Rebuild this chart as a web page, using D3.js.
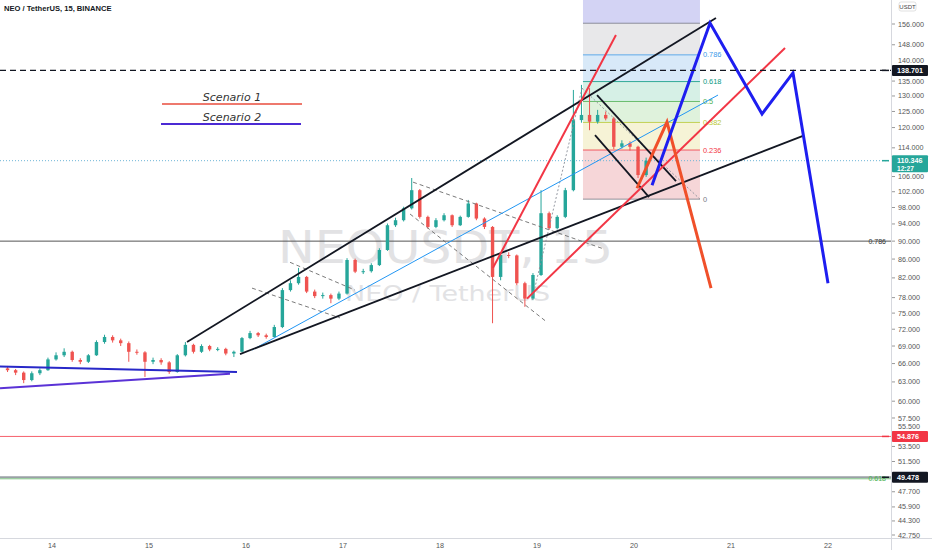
<!DOCTYPE html>
<html><head><meta charset="utf-8">
<script src="https://cdn.jsdelivr.net/npm/d3@7"></script>
<style>body{margin:0;background:#fff}svg{display:block}</style>
</head><body>
<svg id="c" width="932" height="550"></svg>
<script>
// ---- data ----
const candleStartDay = 13.5;   // 13th, 12:00
const candleHours = 2;
const opens  = [65.2,64.9,64.5,63.3,64.4,64.9,66.7,67.4,68.0,66.6,66.3,67.4,69.7,70.6,70.0,69.5,68.0,67.9,66.3,66.6,
                66.2,64.6,67.4,69.2,68.0,69.0,68.4,68.5,67.7,68.0,70.4,71.3,70.9,70.6,72.4,79.5,80.9,82.2,79.2,78.3,
                78.5,77.8,78.8,85.8,83.3,83.4,84.7,88.0,93.7,94.9,97.8,102.4,95.7,93.3,94.9,96.1,93.7,95.7,99.0,95.3,
                93.3,82.2,86.9,86.8,80.9,77.8,82.6,96.6,93.0,95.7,102.4,122.3,123.9,121.8,123.9,122.8,114.3,115.3,114.3,106.4];
const closes = [64.9,64.5,63.3,64.4,64.9,66.7,67.4,68.0,66.6,66.3,67.4,69.7,70.6,70.0,69.5,68.0,67.9,66.3,66.6,66.2,
                64.6,67.4,69.2,68.0,69.0,68.4,68.5,67.7,68.0,70.4,71.3,70.9,70.6,72.4,79.5,80.9,82.2,79.2,78.3,78.5,
                77.8,78.8,85.8,83.3,83.4,84.7,88.0,93.7,94.9,97.8,102.4,95.7,93.3,94.9,96.1,93.7,95.7,99.0,95.3,93.3,
                82.2,86.9,86.8,80.9,77.8,82.6,96.6,93.0,95.7,102.4,122.3,123.9,121.8,123.9,122.8,114.3,115.3,114.3,106.4,110.346];
const highs  = [65.6,65.1,64.7,64.7,65.2,67.0,67.9,68.6,68.2,66.9,67.6,70.0,71.0,70.9,70.3,69.8,68.4,68.1,67.0,66.9,
                66.4,67.6,69.7,69.4,69.3,69.2,68.8,68.7,68.2,70.6,71.7,71.5,71.2,72.8,79.9,81.5,84.1,82.4,79.6,79.0,
                78.8,79.2,86.2,86.1,83.9,85.1,88.4,94.1,95.5,98.2,105.6,102.7,96.0,95.4,96.6,96.3,96.0,99.9,99.2,95.6,
                93.5,87.4,87.5,87.0,81.2,83.0,102.4,97.0,96.1,103.0,132.0,133.7,132.6,125.5,125.0,123.3,116.2,115.9,114.6,111.2];
const lows   = [64.6,64.1,62.8,63.1,64.1,64.8,66.5,67.1,66.3,65.9,66.1,67.3,69.4,69.6,69.0,66.3,67.5,63.8,65.9,65.8,
                64.3,64.5,67.2,67.7,67.8,68.1,68.1,67.4,67.1,67.9,70.2,70.6,70.3,70.5,72.2,79.2,80.6,78.9,77.9,77.8,
                76.9,77.5,78.6,83.0,82.8,83.1,84.5,87.8,93.3,94.6,97.5,95.3,92.9,93.0,94.6,93.3,93.5,95.5,94.9,92.8,
                73.1,81.5,86.2,80.5,76.2,77.5,82.4,92.6,92.7,95.4,102.1,121.5,119.2,121.2,122.2,113.6,113.8,113.2,105.6,105.9];

const dayTicks   = [14,15,16,17,18,19,20,21,22];
const priceTicks = [156,148,140,135,130,125,120,114,106,102,98,94,90,86,82,78,75,72,69,66,63,60,57.5,55.5,53.5,51.5,47.7,45.9,44.3,42.75];

const lastPrice = 110.346, lastTime = "12:27";
const dashedLevel = 138.701, fibLevel786 = 90, redLevel = 54.876, greyLevel = 49.478;

// drawings, as [day, price]
const wedgeUpper = [[15.392,69.7],[20.845,158.4]];
const wedgeLower = [[15.938,67.6],[21.742,117.5]];
const midChannel = [[16.062,68.3],[20.866,130.3]];
const flagUpper  = [[19.619,130.3],[20.433,104.8]];
const flagLower  = [[19.598,117.7],[20.155,100.6]];
const dashedA    = [[16.062,79.9],[16.969,74.1]];
const dashedB    = [[16.454,85.3],[17.124,79.5]];
const dashedC    = [[17.722,104.5],[19.680,88.3]];
const dashedD    = [[17.691,96.4],[19.103,73.3]];
const fibTrendA  = [[18.948,77.5],[19.464,132.6]];
const fibTrendB  = [[19.464,132.6],[20.680,100.1]];
const redUp1     = [[18.546,84.1],[19.814,151.7]];
const redUp2     = [[18.897,77.8],[21.557,146.8]];
const scenario1  = [[20.031,102.9],[20.340,121.7],[20.794,79.9]];
const scenario2  = [[20.186,103.7],[20.784,156.4],[21.320,124.2],[21.639,137.8],[22.0,80.9]];
const triUpper   = [[13.464,65.5],[15.907,64.6]];
const triLower   = [[13.464,62.0],[15.835,64.3]];

const fibStartDay = 19.474, fibEndDay = 20.680;
const fibLow = 100.1, fibHigh = 156.3;
const fibRatios = [0,0.236,0.382,0.5,0.618,0.786,1,1.618];
const fibLabels = ["0","0.236","0.382","0.5","0.618","0.786","",""];

// ---- layout ----
const W = 932, H = 550, paneW = 891, paneH = 538;
const svg = d3.select("#c");
const x = d3.scaleLinear().domain([14,22]).range([52,828]);
const y = d3.scaleLog().domain([42.75,156]).range([535,24]);

svg.append("rect").attr("width",W).attr("height",H).attr("fill","#fff");
svg.append("defs").append("clipPath").attr("id","pane")
  .append("rect").attr("width",paneW).attr("height",paneH);
const pane = svg.append("g").attr("clip-path","url(#pane)");

// watermark
pane.append("text").attr("x",paneW/2).attr("y",263).attr("text-anchor","middle")
  .attr("font-family","DejaVu Sans").attr("font-size",44).attr("fill","#e2e2e4")
  .attr("textLength",335).attr("lengthAdjust","spacingAndGlyphs").text("NEOUSDT, 15");
pane.append("text").attr("x",paneW/2+2).attr("y",301).attr("text-anchor","middle")
  .attr("font-family","DejaVu Sans").attr("font-size",21).attr("fill","#e2e2e4")
  .attr("textLength",205).attr("lengthAdjust","spacingAndGlyphs").text("NEO / TetherUS");

// fib retracement
const fibColors = ["#787b86","#f23645","#b8c832","#4caf50","#089981","#3d9be9","#787b86","#4a4ae0"];
const fibFills  = [null,"#f6d6d8","#f6f3d6","#dff2dc","#d6f0e6","#d8e9f8","#e8e8ea","#d3d3f4"];
const fibPrice = r => fibLow + r*(fibHigh-fibLow);
const fx0 = x(fibStartDay), fx1 = x(fibEndDay);
for (let i=1;i<fibRatios.length;i++){
  const yTop = y(fibPrice(fibRatios[i])), yBot = y(fibPrice(fibRatios[i-1]));
  pane.append("rect").attr("x",fx0).attr("width",fx1-fx0).attr("y",yTop).attr("height",yBot-yTop)
    .attr("fill",fibFills[i]);
}
fibRatios.slice(0,7).forEach((r,i)=>{
  pane.append("line").attr("x1",fx0).attr("x2",fx1).attr("y1",y(fibPrice(r))).attr("y2",y(fibPrice(r)))
    .attr("stroke",fibColors[i]).attr("stroke-width",1).attr("opacity",0.8);
  if (fibLabels[i]) pane.append("text").attr("x",fx1+3).attr("y",y(fibPrice(r))).attr("dy","0.35em")
    .attr("font-family","Liberation Sans").attr("font-size",7.4).attr("fill",fibColors[i]).text(fibLabels[i]);
});

// horizontal levels
const hl = (p,stroke,w,dash)=>pane.append("line").attr("x1",0).attr("x2",paneW).attr("y1",y(p)).attr("y2",y(p))
  .attr("stroke",stroke).attr("stroke-width",w).attr("stroke-dasharray",dash||null);
hl(fibLevel786,"#555",1);
hl(redLevel,"#f23645",0.8);
hl(greyLevel,"#9aa0a6",2);
pane.append("line").attr("x1",0).attr("x2",paneW).attr("y1",y(greyLevel)+1.5).attr("y2",y(greyLevel)+1.5)
  .attr("stroke","#66bb6a").attr("stroke-width",0.8);
hl(lastPrice,"#6fb6d8",1,"1,2");
pane.append("text").attr("x",paneW-5).attr("y",y(fibLevel786)).attr("dy","0.35em").attr("text-anchor","end")
  .attr("font-family","Liberation Sans").attr("font-size",7).attr("fill","#333").text("0.786");
pane.append("text").attr("x",paneW-5).attr("y",y(greyLevel)+1).attr("dy","0.35em").attr("text-anchor","end")
  .attr("font-family","Liberation Sans").attr("font-size",7).attr("fill","#4caf50").text("0.618");

// candles
const candles = closes.map((c,i)=>({t:candleStartDay+(i+0.5)*candleHours/24,o:opens[i],c,h:highs[i],l:lows[i]}));
const cw = 3.4;
const cg = pane.append("g");
candles.forEach(d=>{
  const col = d.c>=d.o ? "#26a69a" : "#ef5350";
  const cx = x(d.t);
  cg.append("line").attr("x1",cx).attr("x2",cx).attr("y1",y(d.h)).attr("y2",y(d.l)).attr("stroke",col).attr("stroke-width",1);
  const y0 = y(Math.max(d.o,d.c)), y1 = y(Math.min(d.o,d.c));
  cg.append("rect").attr("x",cx-cw/2).attr("width",cw).attr("y",y0).attr("height",Math.max(1,y1-y0)).attr("fill",col);
});

// drawings
const line = d3.line().x(d=>x(d[0])).y(d=>y(d[1]));
const draw = (pts,stroke,w,dash)=>pane.append("path").attr("d",line(pts)).attr("fill","none")
  .attr("stroke",stroke).attr("stroke-width",w).attr("stroke-dasharray",dash||null).attr("stroke-linejoin","miter");
[dashedA,dashedB,dashedC,dashedD].forEach(p=>draw(p,"#6b6b6b",0.9,"4,3"));
[fibTrendA,fibTrendB].forEach(p=>draw(p,"#8a8e99",0.9,"2,2"));
draw(midChannel,"#2196f3",1);
draw(wedgeUpper,"#131722",1.8);
draw(wedgeLower,"#131722",1.8);
draw(flagUpper,"#131722",1.8);
draw(flagLower,"#131722",1.8);
draw(redUp1,"#f23645",2);
draw(redUp2,"#f23645",2);
draw(triUpper,"#2828c8",2);
draw(triLower,"#5a32d6",2);
draw(scenario1,"#f0502a",3);
draw(scenario2,"#1e1ef0",3);

// dashed key level
pane.append("line").attr("x1",0).attr("x2",paneW).attr("y1",y(dashedLevel)).attr("y2",y(dashedLevel))
  .attr("stroke","#131722").attr("stroke-width",1.3).attr("stroke-dasharray","6,4");

// legend (drawing text)
const lg = pane.append("g").attr("font-family","DejaVu Sans").attr("font-style","italic").attr("font-size",11).attr("fill","#333");
lg.append("text").attr("x",232).attr("y",100.5).attr("text-anchor","middle").text("Scenario 1");
lg.append("line").attr("x1",162).attr("x2",302).attr("y1",104).attr("y2",104).attr("stroke","#e84c3d").attr("stroke-width",1.5);
lg.append("text").attr("x",232).attr("y",120.5).attr("text-anchor","middle").text("Scenario 2");
lg.append("line").attr("x1",161).attr("x2",301).attr("y1",124).attr("y2",124).attr("stroke","#4b2ad4").attr("stroke-width",1.8);

// title
svg.append("text").attr("x",4).attr("y",11).attr("font-family","Liberation Sans").attr("font-weight","bold")
  .attr("font-size",7.6).attr("fill","#131722").text("NEO / TetherUS, 15, BINANCE");

// axes borders
svg.append("line").attr("x1",paneW+0.5).attr("x2",paneW+0.5).attr("y1",0).attr("y2",H).attr("stroke","#d6d8de");
svg.append("line").attr("x1",0).attr("x2",W).attr("y1",paneH+0.5).attr("y2",paneH+0.5).attr("stroke","#d6d8de");

// price axis (labels that would sit under a price tag are nudged just above it)
const tagLevels = [dashedLevel,lastPrice,redLevel,greyLevel];
const pa = svg.append("g").attr("font-family","Liberation Sans").attr("font-size",7.2).attr("fill","#555");
priceTicks.forEach(p=>{
  let ty = y(p);
  tagLevels.forEach(t=>{ const d = ty - y(t); if (d > -11 && d < 9) ty = y(t) - 10; });
  pa.append("line").attr("x1",paneW+1).attr("x2",paneW+4).attr("y1",y(p)).attr("y2",y(p)).attr("stroke","#999");
  pa.append("text").attr("x",paneW+7).attr("y",ty).attr("dy","0.35em").text(d3.format(".3f")(p));
});
// day axis
const da = svg.append("g").attr("font-family","Liberation Sans").attr("font-size",7.2).attr("fill","#555");
dayTicks.forEach(d=>{
  da.append("text").attr("x",x(d)).attr("y",545).attr("dy","0.35em").attr("text-anchor","middle").text(d);
});

// price labels
const tag = (p,bg,lines)=>{
  const h = lines.length>1 ? 17 : 11;
  const yc = y(p);
  svg.append("rect").attr("x",paneW+1).attr("y",yc-5.5).attr("width",36).attr("height",h).attr("fill",bg).attr("rx",1);
  lines.forEach((t,i)=>svg.append("text").attr("x",paneW+6).attr("y",yc+i*8).attr("dy","0.35em")
    .attr("font-family","Liberation Sans").attr("font-size",i?6.6:7.2).attr("font-weight","bold").attr("fill","#fff").text(t));
  svg.append("line").attr("x1",paneW-9).attr("x2",paneW-2).attr("y1",yc).attr("y2",yc).attr("stroke",bg).attr("stroke-width",1.5);
};
tag(dashedLevel,"#131722",[d3.format(".3f")(dashedLevel)]);
tag(lastPrice,"#26a69a",[d3.format(".3f")(lastPrice),lastTime]);
tag(redLevel,"#f23645",[d3.format(".3f")(redLevel)]);
tag(greyLevel,"#131722",[d3.format(".3f")(greyLevel)]);

// currency tag
svg.append("rect").attr("x",899).attr("y",2).attr("width",17).attr("height",9).attr("rx",2)
  .attr("fill","none").attr("stroke","#ccc").attr("stroke-width",0.6);
svg.append("text").attr("x",907.5).attr("y",7).attr("dy","0.35em").attr("text-anchor","middle")
  .attr("font-family","Liberation Sans").attr("font-size",6).attr("fill","#444").text("USDT");
</script>
</body></html>
